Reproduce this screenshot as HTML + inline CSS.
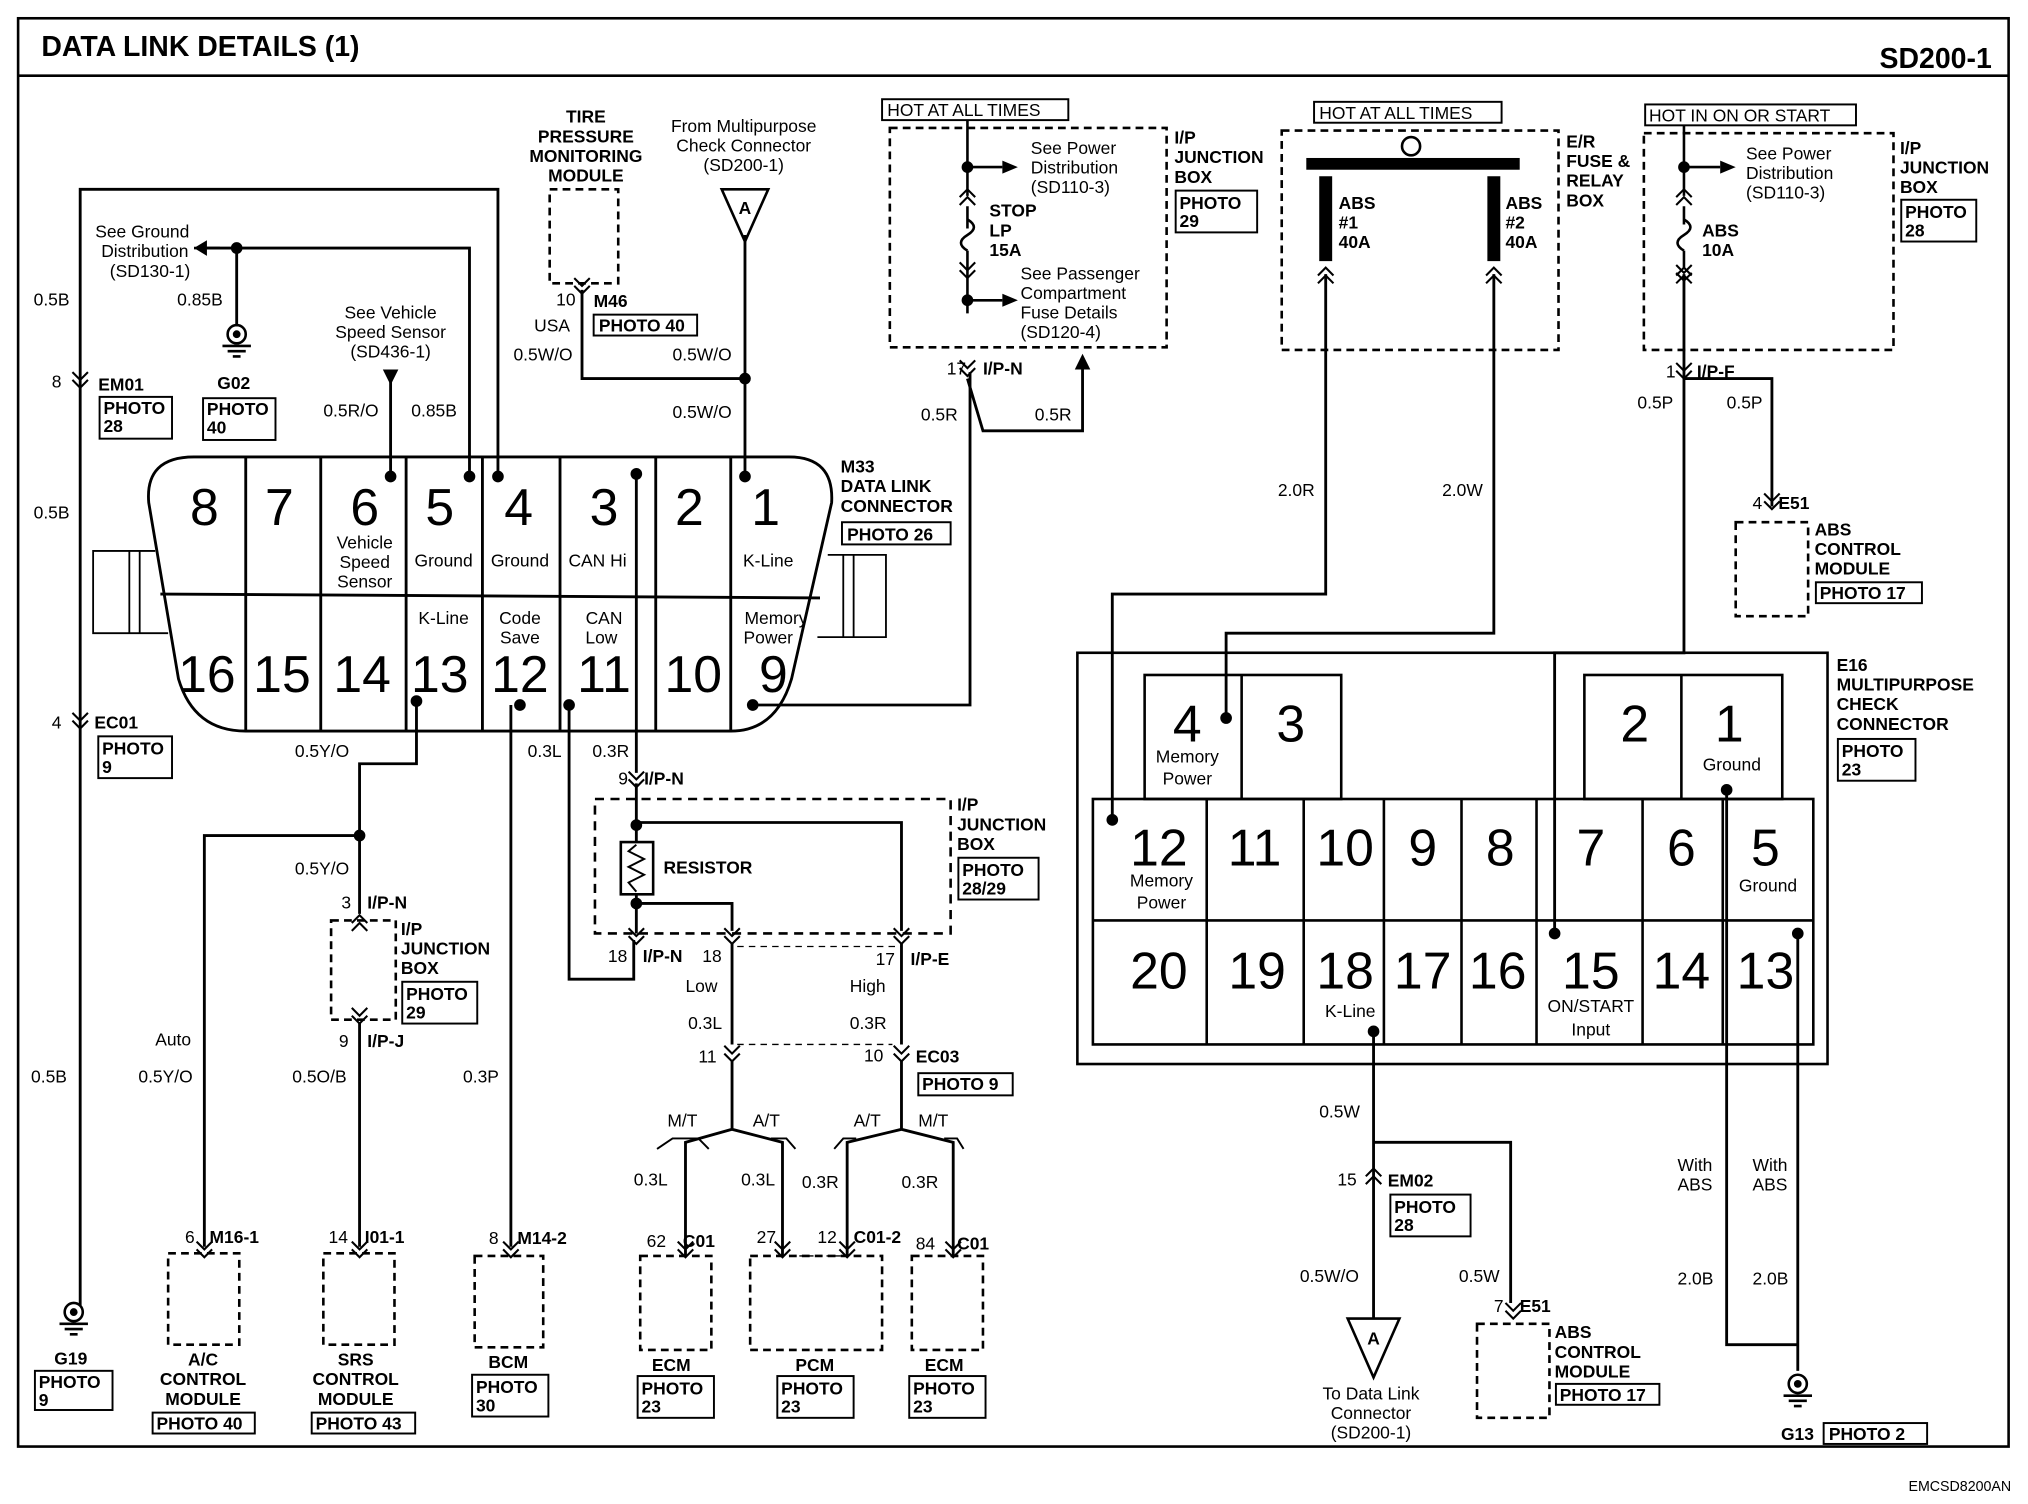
<!DOCTYPE html>
<html><head><meta charset="utf-8"><style>
html,body{margin:0;padding:0;background:#fff}
svg{display:block}
text{font-family:"Liberation Sans",sans-serif;fill:#000}
.b{font-weight:bold}
</style></head><body>
<svg width="2028" height="1504" viewBox="0 0 1568 1152" preserveAspectRatio="none" xmlns="http://www.w3.org/2000/svg">
<defs>
<g id="cd"><path d="M-6,-7 L0,-1 L6,-7 M-6,-1 L0,5 L6,-1" fill="none" stroke="#000" stroke-width="1.6"/></g>
<g id="cu"><path d="M-6,7 L0,1 L6,7 M-6,1 L0,-5 L6,1" fill="none" stroke="#000" stroke-width="1.6"/></g>
<g id="dot"><circle r="4.5" fill="#000"/></g>
<g id="gnd"><circle cx="0" cy="0" r="7" fill="none" stroke="#000" stroke-width="2"/><circle r="3" fill="#000"/><path d="M-11,9 H11 M-7,13 H7 M-3,17 H3" stroke="#000" stroke-width="2"/></g>
</defs>
<rect width="1568" height="1152" fill="#fff"/>
<!-- frame -->
<g fill="none" stroke="#000" stroke-width="2">
<rect x="14" y="14" width="1539" height="1094"/>
<line x1="14" y1="58" x2="1553" y2="58"/>
</g>
<text x="32" y="43" class="b" font-size="22">DATA LINK DETAILS (1)</text>
<text x="1540" y="52" class="b" font-size="22" text-anchor="end">SD200-1</text>
<text x="1555" y="1142" font-size="11" text-anchor="end">EMCSD8200AN</text>

<g font-size="13.5">
<!-- DLC connector -->
<g fill="none" stroke="#000" stroke-width="2.2">
<path d="M150,350 H610 Q645,350 643,385 L612,520 Q600,560 565,560 H190 Q150,560 138,520 L115,385 Q112,350 150,350 Z"/>
<line x1="124" y1="455" x2="634" y2="458"/>
<path d="M190,350 V560 M248,350 V560 M314,350 V560 M373,350 V560 M433,350 V560 M507,350 V560 M565,350 V560"/>
<path d="M120,422 H72 V485 H130 M100,422 V485 M108,422 V485" stroke-width="1.4"/>
<path d="M640,425 H685 V488 H632 M652,425 V488 M660,425 V488" stroke-width="1.4"/>
</g>
<g font-size="40" text-anchor="middle">
<text x="158" y="402">8</text><text x="216" y="402">7</text><text x="282" y="402">6</text><text x="340" y="402">5</text><text x="401" y="402">4</text><text x="467" y="402">3</text><text x="533" y="402">2</text><text x="592" y="402">1</text>
<text x="160" y="530">16</text><text x="218" y="530">15</text><text x="280" y="530">14</text><text x="340" y="530">13</text><text x="402" y="530">12</text><text x="467" y="530">11</text><text x="536" y="530">10</text><text x="598" y="530">9</text>
</g>
<g text-anchor="middle" font-size="13.5">
<text x="282" y="420">Vehicle</text><text x="282" y="435">Speed</text><text x="282" y="450">Sensor</text>
<text x="343" y="434">Ground</text><text x="402" y="434">Ground</text><text x="462" y="434">CAN Hi</text><text x="594" y="434">K-Line</text>
<text x="343" y="478">K-Line</text><text x="402" y="478">Code</text><text x="402" y="493">Save</text><text x="467" y="478">CAN</text><text x="465" y="493">Low</text><text x="600" y="478">Memory</text><text x="594" y="493">Power</text>
</g>
<text x="650" y="362" class="b">M33</text><text x="650" y="377" class="b">DATA LINK</text><text x="650" y="392" class="b">CONNECTOR</text>
<rect x="651" y="400" width="84" height="17" fill="none" stroke="#000" stroke-width="1.5"/><text x="655" y="414" class="b">PHOTO 26</text>

<!-- wires -->
<g fill="none" stroke="#000" stroke-width="2.2">
<path d="M385,365 V145 H62 V1000"/>
<path d="M363,365 V190 H160"/>
<path d="M183,190 V250"/>
<path d="M302,365 V290"/>
<path d="M576,365 V180"/>
<path d="M450,222 V290 H576"/>
<path d="M492,360 V592"/>
<path d="M582,540 H750 V285"/>
<path d="M748,290 L760,330 H837 V275"/>
<path d="M322,537 V585 H278 V700"/>
<path d="M278,640 H158 V955"/>
<path d="M278,783 V955"/>
<path d="M395,540 V955"/>
<path d="M440,540 V750 H490 V720"/>
<path d="M492,600 V645 M492,685 V715 M492,630 H697 V713 M492,692 H566 V713"/>
<path d="M566,722 V800 M697,722 V800"/>
<path d="M566,812 V865 L530,875 V962 M566,865 L605,875 V962"/>
<path d="M697,812 V865 L655,875 V962 M697,865 L737,875 V962"/>
<path d="M1025,210 V455 H860 V625"/>
<path d="M1155,210 V485 H948 V550"/>
<path d="M1302,210 V500 H1202 V715"/>
<path d="M1302,290 H1370 V388"/>
<path d="M1335,605 V1030 H1390"/>
<path d="M1390,715 V1050"/>
<path d="M1062,790 V1010"/>
<path d="M1062,875 H1168 V998"/>
</g>
<path d="M502,630 H697 M492,692" fill="none"/>
<g fill="#000">
<use href="#dot" x="302" y="365"/><use href="#dot" x="363" y="365"/><use href="#dot" x="385" y="365"/><use href="#dot" x="492" y="363"/><use href="#dot" x="576" y="365"/>
<use href="#dot" x="322" y="537"/><use href="#dot" x="402" y="540"/><use href="#dot" x="440" y="540"/><use href="#dot" x="582" y="540"/>
<use href="#dot" x="183" y="190"/><use href="#dot" x="576" y="290"/><use href="#dot" x="278" y="640"/>
<use href="#dot" x="492" y="632"/><use href="#dot" x="492" y="692"/>
<use href="#dot" x="860" y="628"/><use href="#dot" x="948" y="550"/><use href="#dot" x="1202" y="715"/><use href="#dot" x="1335" y="605"/><use href="#dot" x="1390" y="715"/><use href="#dot" x="1062" y="790"/>
<use href="#dot" x="748" y="128"/><use href="#dot" x="748" y="230"/><use href="#dot" x="1302" y="128"/>
</g>
<!-- arrows -->
<path d="M160,184 L150,190 L160,196 Z M296,283 L302,295 L308,283 Z M831,283 L837,271 L843,283 Z" fill="#000"/>
<path d="M150,190 H170" stroke="#000" stroke-width="2"/>

<!-- connector chevrons -->
<use href="#cd" x="62" y="292"/><use href="#cd" x="62" y="553"/>
<use href="#cd" x="450" y="220"/><use href="#cd" x="748" y="283"/><use href="#cd" x="1302" y="285"/><use href="#cd" x="1370" y="385"/>
<use href="#cd" x="492" y="598"/><use href="#cd" x="492" y="718"/><use href="#cd" x="566" y="718"/><use href="#cd" x="697" y="718"/>
<use href="#cd" x="566" y="808"/><use href="#cd" x="697" y="808"/>
<use href="#cu" x="278" y="706"/><use href="#cd" x="278" y="779"/>
<use href="#cd" x="158" y="958"/><use href="#cd" x="278" y="958"/><use href="#cd" x="395" y="958"/><use href="#cd" x="530" y="958"/><use href="#cd" x="605" y="958"/><use href="#cd" x="655" y="958"/><use href="#cd" x="737" y="958"/>
<use href="#cu" x="1062" y="900"/><use href="#cd" x="1170" y="1005"/>
<use href="#cu" x="1025" y="210"/><use href="#cu" x="1155" y="210"/><use href="#cu" x="1302" y="210"/>
<use href="#cu" x="748" y="150"/><use href="#cd" x="748" y="208"/><use href="#cu" x="1302" y="150"/><use href="#cd" x="1302" y="210"/>

<!-- grounds -->
<use href="#gnd" x="183" y="256"/><use href="#gnd" x="57" y="1005"/><use href="#gnd" x="1390" y="1060"/>
<text x="168" y="298" class="b">G02</text><rect x="157" y="305" width="56" height="32" fill="none" stroke="#000" stroke-width="1.5"/><text x="160" y="318" class="b">PHOTO</text><text x="160" y="332" class="b">40</text>
<text x="42" y="1045" class="b">G19</text><rect x="27" y="1050" width="60" height="30" fill="none" stroke="#000" stroke-width="1.5"/><text x="30" y="1063" class="b">PHOTO</text><text x="30" y="1077" class="b">9</text>
<text x="1377" y="1103" class="b">G13</text><rect x="1410" y="1090" width="80" height="16" fill="none" stroke="#000" stroke-width="1.5"/><text x="1414" y="1103" class="b">PHOTO 2</text>

<!-- A triangles -->
<path d="M558,145 H594 L576,185 Z M1042,1010 H1082 L1062,1055 Z" fill="none" stroke="#000" stroke-width="2"/>
<text x="576" y="164" text-anchor="middle" class="b">A</text><text x="1062" y="1030" text-anchor="middle" class="b">A</text>

<!-- left labels -->
<g text-anchor="middle"><text x="110" y="182">See Ground</text><text x="112" y="197">Distribution</text><text x="116" y="212">(SD130-1)</text>
<text x="302" y="244">See Vehicle</text><text x="302" y="259">Speed Sensor</text><text x="302" y="274">(SD436-1)</text>
<text x="575" y="101">From Multipurpose</text><text x="575" y="116">Check Connector</text><text x="575" y="131">(SD200-1)</text>
<text x="453" y="94" class="b">TIRE</text><text x="453" y="109" class="b">PRESSURE</text><text x="453" y="124" class="b">MONITORING</text><text x="453" y="139" class="b">MODULE</text></g>
<text x="26" y="234">0.5B</text><text x="137" y="234">0.85B</text>
<text x="40" y="297">8</text><text x="76" y="299" class="b">EM01</text><rect x="77" y="304" width="56" height="32" fill="none" stroke="#000" stroke-width="1.5"/><text x="80" y="317" class="b">PHOTO</text><text x="80" y="331" class="b">28</text>
<text x="250" y="319">0.5R/O</text><text x="318" y="319">0.85B</text>
<text x="26" y="397">0.5B</text>
<text x="40" y="558">4</text><text x="73" y="558" class="b">EC01</text><rect x="76" y="564" width="57" height="32" fill="none" stroke="#000" stroke-width="1.5"/><text x="79" y="578" class="b">PHOTO</text><text x="79" y="592" class="b">9</text>
<text x="228" y="580">0.5Y/O</text><text x="408" y="580">0.3L</text><text x="458" y="580">0.3R</text>
<text x="228" y="670">0.5Y/O</text>
<text x="24" y="829">0.5B</text><text x="120" y="801">Auto</text><text x="107" y="829">0.5Y/O</text><text x="226" y="829">0.5O/B</text><text x="358" y="829">0.3P</text>
<text x="430" y="234">10</text><text x="459" y="235" class="b">M46</text><text x="413" y="254">USA</text><rect x="459" y="241" width="80" height="16" fill="none" stroke="#000" stroke-width="1.5"/><text x="463" y="254" class="b">PHOTO 40</text>
<text x="397" y="276">0.5W/O</text><text x="520" y="276">0.5W/O</text><text x="520" y="320">0.5W/O</text>
<!-- tire module -->
<rect x="425" y="145" width="53" height="72" fill="none" stroke="#000" stroke-width="2" stroke-dasharray="6,4"/>

<!-- IP junction box top -->
<rect x="682" y="76" width="144" height="16" fill="none" stroke="#000" stroke-width="1.5"/><text x="686" y="89">HOT AT ALL TIMES</text>
<rect x="688" y="98" width="214" height="168" fill="none" stroke="#000" stroke-width="2" stroke-dasharray="6,4"/>
<path d="M748,92 V150 M748,192 Q738,186 748,180 Q758,174 748,168 M748,128 H775 M748,230 H775" fill="none" stroke="#000" stroke-width="2"/>
<path d="M748,158 V175 M748,192 V240" stroke="#000" stroke-width="2"/>
<path d="M775,123 L787,128 L775,133 Z M775,225 L787,230 L775,235 Z" fill="#000"/>
<text x="797" y="118">See Power</text><text x="797" y="133">Distribution</text><text x="797" y="148">(SD110-3)</text>
<text x="765" y="166" class="b">STOP</text><text x="765" y="181" class="b">LP</text><text x="765" y="196" class="b">15A</text>
<text x="789" y="214">See Passenger</text><text x="789" y="229">Compartment</text><text x="789" y="244">Fuse Details</text><text x="789" y="259">(SD120-4)</text>
<text x="908" y="110" class="b">I/P</text><text x="908" y="125" class="b">JUNCTION</text><text x="908" y="140" class="b">BOX</text>
<rect x="909" y="146" width="63" height="32" fill="none" stroke="#000" stroke-width="1.5"/><text x="912" y="160" class="b">PHOTO</text><text x="912" y="174" class="b">29</text>
<text x="732" y="287">17</text><text x="760" y="287" class="b">I/P-N</text>
<text x="712" y="322">0.5R</text><text x="800" y="322">0.5R</text>

<!-- E/R box -->
<rect x="1016" y="78" width="145" height="16" fill="none" stroke="#000" stroke-width="1.5"/><text x="1020" y="91">HOT AT ALL TIMES</text>
<rect x="991" y="100" width="214" height="168" fill="none" stroke="#000" stroke-width="2" stroke-dasharray="6,4"/>
<rect x="1010" y="121" width="165" height="9" fill="#000"/>
<circle cx="1091" cy="112" r="7" fill="#fff" stroke="#000" stroke-width="2"/>
<rect x="1020" y="135" width="10" height="65" fill="#000"/><rect x="1150" y="135" width="10" height="65" fill="#000"/>
<text x="1035" y="160" class="b">ABS</text><text x="1035" y="175" class="b">#1</text><text x="1035" y="190" class="b">40A</text>
<text x="1164" y="160" class="b">ABS</text><text x="1164" y="175" class="b">#2</text><text x="1164" y="190" class="b">40A</text>
<text x="1211" y="113" class="b">E/R</text><text x="1211" y="128" class="b">FUSE &amp;</text><text x="1211" y="143" class="b">RELAY</text><text x="1211" y="158" class="b">BOX</text>
<text x="988" y="380">2.0R</text><text x="1115" y="380">2.0W</text>

<!-- right IP box -->
<rect x="1272" y="80" width="163" height="16" fill="none" stroke="#000" stroke-width="1.5"/><text x="1275" y="93">HOT IN ON OR START</text>
<rect x="1271" y="102" width="193" height="166" fill="none" stroke="#000" stroke-width="2" stroke-dasharray="6,4"/>
<path d="M1302,96 V150 M1302,158 V172 M1302,192 Q1292,186 1302,180 Q1312,174 1302,168 M1302,192 V205 M1302,128 H1330" fill="none" stroke="#000" stroke-width="2"/>
<path d="M1330,123 L1342,128 L1330,133 Z" fill="#000"/>
<text x="1350" y="122">See Power</text><text x="1350" y="137">Distribution</text><text x="1350" y="152">(SD110-3)</text>
<text x="1316" y="181" class="b">ABS</text><text x="1316" y="196" class="b">10A</text>
<text x="1469" y="118" class="b">I/P</text><text x="1469" y="133" class="b">JUNCTION</text><text x="1469" y="148" class="b">BOX</text>
<rect x="1470" y="153" width="58" height="32" fill="none" stroke="#000" stroke-width="1.5"/><text x="1473" y="167" class="b">PHOTO</text><text x="1473" y="181" class="b">28</text>
<text x="1288" y="289">1</text><text x="1312" y="289" class="b">I/P-F</text>
<text x="1266" y="313">0.5P</text><text x="1335" y="313">0.5P</text>
<text x="1355" y="390">4</text><text x="1375" y="390" class="b">E51</text>
<rect x="1342" y="400" width="56" height="72" fill="none" stroke="#000" stroke-width="2" stroke-dasharray="6,4"/>
<text x="1403" y="410" class="b">ABS</text><text x="1403" y="425" class="b">CONTROL</text><text x="1403" y="440" class="b">MODULE</text>
<rect x="1404" y="446" width="82" height="16" fill="none" stroke="#000" stroke-width="1.5"/><text x="1407" y="459" class="b">PHOTO 17</text>

<!-- E16 -->
<g fill="none" stroke="#000" stroke-width="2">
<rect x="833" y="500" width="580" height="315"/>
<rect x="845" y="612" width="557" height="188"/>
<line x1="845" y1="705" x2="1402" y2="705"/>
<path d="M933,612 V800 M1008,612 V800 M1070,612 V800 M1130,612 V800 M1188,612 V800 M1270,612 V800 M1332,612 V800"/>
<rect x="885" y="517" width="152" height="95"/><line x1="960" y1="517" x2="960" y2="612"/>
<rect x="1225" y="517" width="153" height="95"/><line x1="1300" y1="517" x2="1300" y2="612"/>
</g>
<g font-size="40" text-anchor="middle">
<text x="918" y="568">4</text><text x="998" y="568">3</text><text x="1264" y="568">2</text><text x="1337" y="568">1</text>
<text x="896" y="663">12</text><text x="970" y="663">11</text><text x="1040" y="663">10</text><text x="1100" y="663">9</text><text x="1160" y="663">8</text><text x="1230" y="663">7</text><text x="1300" y="663">6</text><text x="1365" y="663">5</text>
<text x="896" y="757">20</text><text x="972" y="757">19</text><text x="1040" y="757">18</text><text x="1100" y="757">17</text><text x="1158" y="757">16</text><text x="1230" y="757">15</text><text x="1300" y="757">14</text><text x="1365" y="757">13</text>
</g>
<g text-anchor="middle"><text x="918" y="584">Memory</text><text x="918" y="601">Power</text><text x="1339" y="590">Ground</text>
<text x="898" y="679">Memory</text><text x="898" y="696">Power</text><text x="1367" y="683">Ground</text>
<text x="1044" y="779">K-Line</text><text x="1230" y="775">ON/START</text><text x="1230" y="793">Input</text></g>
<text x="1420" y="514" class="b">E16</text><text x="1420" y="529" class="b">MULTIPURPOSE</text><text x="1420" y="544" class="b">CHECK</text><text x="1420" y="559" class="b">CONNECTOR</text>
<rect x="1421" y="566" width="60" height="32" fill="none" stroke="#000" stroke-width="1.5"/><text x="1424" y="580" class="b">PHOTO</text><text x="1424" y="594" class="b">23</text>

<!-- bottom right -->
<text x="1020" y="856">0.5W</text>
<text x="1034" y="908">15</text><text x="1073" y="909" class="b">EM02</text>
<rect x="1075" y="915" width="62" height="32" fill="none" stroke="#000" stroke-width="1.5"/><text x="1078" y="929" class="b">PHOTO</text><text x="1078" y="943" class="b">28</text>
<text x="1005" y="982">0.5W/O</text><text x="1128" y="982">0.5W</text>
<g text-anchor="middle"><text x="1060" y="1072">To Data Link</text><text x="1060" y="1087">Connector</text><text x="1060" y="1102">(SD200-1)</text></g>
<text x="1155" y="1005">7</text><text x="1175" y="1005" class="b">E51</text>
<rect x="1142" y="1014" width="56" height="72" fill="none" stroke="#000" stroke-width="2" stroke-dasharray="6,4"/>
<text x="1202" y="1025" class="b">ABS</text><text x="1202" y="1040" class="b">CONTROL</text><text x="1202" y="1055" class="b">MODULE</text>
<rect x="1203" y="1060" width="80" height="16" fill="none" stroke="#000" stroke-width="1.5"/><text x="1206" y="1073" class="b">PHOTO 17</text>
<text x="1297" y="897">With</text><text x="1297" y="912">ABS</text><text x="1355" y="897">With</text><text x="1355" y="912">ABS</text>
<text x="1297" y="984">2.0B</text><text x="1355" y="984">2.0B</text>

<!-- resistor / middle IP box -->
<rect x="460" y="612" width="275" height="103" fill="none" stroke="#000" stroke-width="2" stroke-dasharray="7,5"/>
<rect x="480" y="645" width="25" height="40" fill="#fff" stroke="#000" stroke-width="2"/>
<path d="M492,647 L486,652 L498,658 L486,664 L498,670 L486,676 L492,683" fill="none" stroke="#000" stroke-width="1.5"/>
<text x="513" y="669" class="b">RESISTOR</text>
<text x="478" y="601">9</text><text x="498" y="601" class="b">I/P-N</text>
<text x="740" y="621" class="b">I/P</text><text x="740" y="636" class="b">JUNCTION</text><text x="740" y="651" class="b">BOX</text>
<rect x="741" y="657" width="62" height="32" fill="none" stroke="#000" stroke-width="1.5"/><text x="744" y="671" class="b">PHOTO</text><text x="744" y="685" class="b">28/29</text>
<path d="M570,725 H697 M570,800 H690" stroke="#000" stroke-width="1" stroke-dasharray="5,4"/>
<text x="470" y="737">18</text><text x="497" y="737" class="b">I/P-N</text><text x="543" y="737">18</text>
<text x="677" y="739">17</text><text x="704" y="739" class="b">I/P-E</text>
<text x="530" y="760">Low</text><text x="657" y="760">High</text>
<text x="532" y="788">0.3L</text><text x="657" y="788">0.3R</text>
<text x="540" y="814">11</text><text x="668" y="813">10</text><text x="708" y="814" class="b">EC03</text>
<rect x="710" y="822" width="73" height="17" fill="none" stroke="#000" stroke-width="1.5"/><text x="713" y="835" class="b">PHOTO 9</text>
<text x="516" y="863">M/T</text><text x="582" y="863">A/T</text><text x="660" y="863">A/T</text><text x="710" y="863">M/T</text>
<path d="M508,880 L520,872 H540 L548,880 M596,872 H608 L615,880 M645,880 L652,872 H662 M730,872 H740 L745,880" fill="none" stroke="#000" stroke-width="1.5"/>
<text x="490" y="908">0.3L</text><text x="573" y="908">0.3L</text><text x="620" y="910">0.3R</text><text x="697" y="910">0.3R</text>
<!-- IP junction (left) -->
<rect x="256" y="705" width="50" height="76" fill="none" stroke="#000" stroke-width="2" stroke-dasharray="6,4"/>
<text x="264" y="696">3</text><text x="284" y="696" class="b">I/P-N</text>
<text x="310" y="716" class="b">I/P</text><text x="310" y="731" class="b">JUNCTION</text><text x="310" y="746" class="b">BOX</text>
<rect x="311" y="752" width="58" height="32" fill="none" stroke="#000" stroke-width="1.5"/><text x="314" y="766" class="b">PHOTO</text><text x="314" y="780" class="b">29</text>
<text x="262" y="802">9</text><text x="284" y="802" class="b">I/P-J</text>

<!-- bottom modules -->
<g fill="none" stroke="#000" stroke-width="2" stroke-dasharray="6,4">
<rect x="130" y="960" width="55" height="70"/><rect x="250" y="960" width="55" height="70"/><rect x="367" y="962" width="53" height="70"/>
<rect x="495" y="962" width="55" height="72"/><rect x="580" y="962" width="102" height="72"/><rect x="705" y="962" width="55" height="72"/>
</g>
<text x="143" y="952">6</text><text x="162" y="952" class="b">M16-1</text>
<text x="254" y="952">14</text><text x="282" y="952" class="b">I01-1</text>
<text x="378" y="953">8</text><text x="400" y="953" class="b">M14-2</text>
<text x="500" y="955">62</text><text x="528" y="955" class="b">C01</text>
<text x="585" y="952">27</text><text x="632" y="952">12</text><text x="660" y="952" class="b">C01-2</text>
<text x="708" y="957">84</text><text x="740" y="957" class="b">C01</text>
<path d="M611,962 H652" stroke="#000" stroke-width="1" stroke-dasharray="4,3"/>
<g class="b" text-anchor="middle"><text x="157" y="1046">A/C</text><text x="157" y="1061">CONTROL</text><text x="157" y="1076">MODULE</text>
<text x="275" y="1046">SRS</text><text x="275" y="1061">CONTROL</text><text x="275" y="1076">MODULE</text>
<text x="393" y="1048">BCM</text><text x="519" y="1050">ECM</text><text x="630" y="1050">PCM</text><text x="730" y="1050">ECM</text></g>
<rect x="118" y="1082" width="79" height="16" fill="none" stroke="#000" stroke-width="1.5"/><text x="121" y="1095" class="b">PHOTO 40</text>
<rect x="241" y="1082" width="80" height="16" fill="none" stroke="#000" stroke-width="1.5"/><text x="244" y="1095" class="b">PHOTO 43</text>
<rect x="365" y="1053" width="59" height="32" fill="none" stroke="#000" stroke-width="1.5"/><text x="368" y="1067" class="b">PHOTO</text><text x="368" y="1081" class="b">30</text>
<rect x="493" y="1054" width="59" height="32" fill="none" stroke="#000" stroke-width="1.5"/><text x="496" y="1068" class="b">PHOTO</text><text x="496" y="1082" class="b">23</text>
<rect x="601" y="1054" width="59" height="32" fill="none" stroke="#000" stroke-width="1.5"/><text x="604" y="1068" class="b">PHOTO</text><text x="604" y="1082" class="b">23</text>
<rect x="703" y="1054" width="59" height="32" fill="none" stroke="#000" stroke-width="1.5"/><text x="706" y="1068" class="b">PHOTO</text><text x="706" y="1082" class="b">23</text>
</g>
</svg>
</body></html>
